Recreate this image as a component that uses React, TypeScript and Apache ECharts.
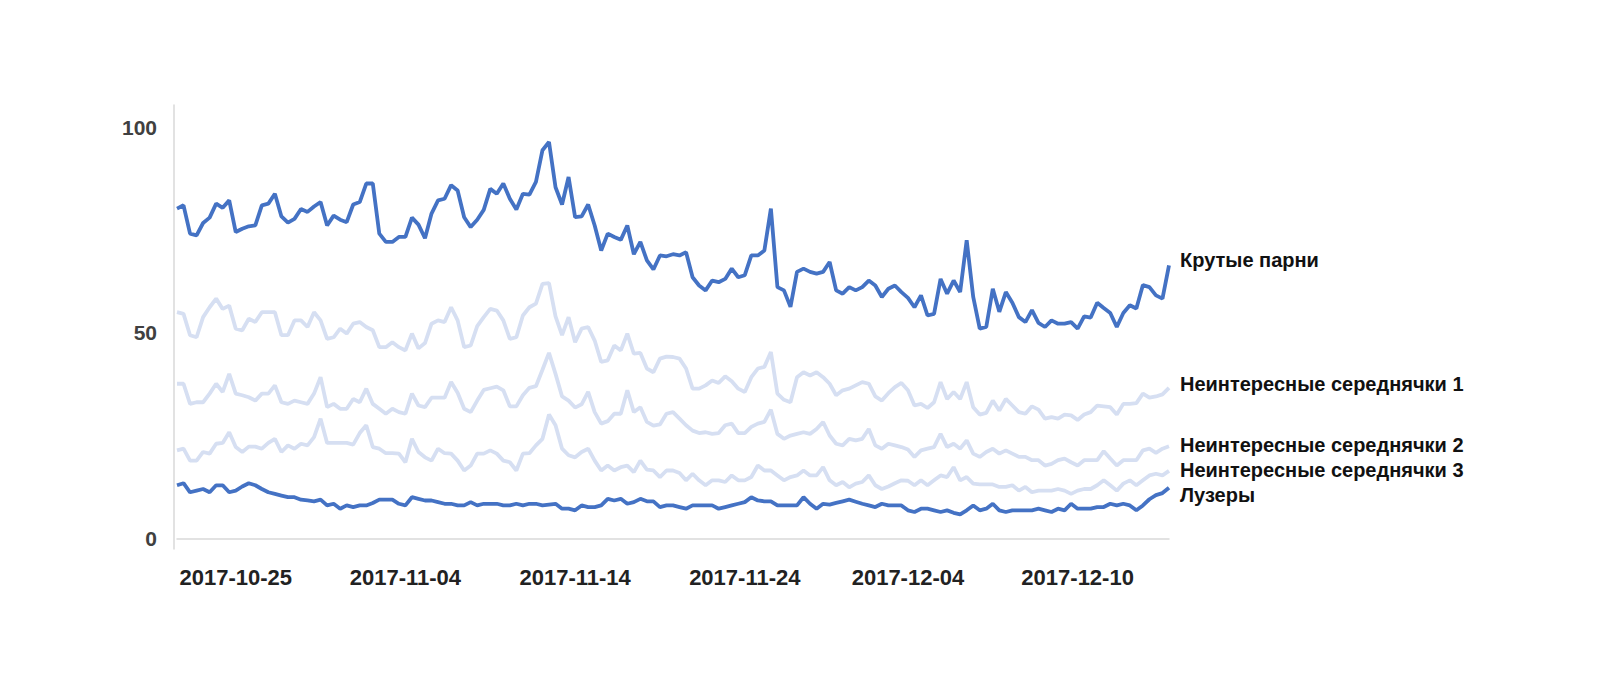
import React, { useEffect, useRef } from "react";
import * as echarts from "echarts";

const seriesNames = [
  "Крутые парни",
  "Неинтересные середнячки 1",
  "Неинтересные середнячки 2",
  "Неинтересные середнячки 3",
  "Лузеры",
];

const tickLabels = ["2017-10-25", "2017-11-04", "2017-11-14", "2017-11-24", "2017-12-04", "2017-12-10"];
const tickIndex = [9, 35, 61, 87, 112, 138];

const krutye = [
  80.2, 81.0, 74.1, 73.7, 76.7, 78.0, 81.4, 80.4, 82.2, 74.5,
  75.3, 75.9, 76.1, 81.0, 81.4, 83.8, 78.3, 76.8, 77.7, 80.1,
  79.4, 80.7, 81.8, 76.1, 78.5, 77.5, 76.9, 81.2, 81.8, 86.3,
  86.3, 74.1, 72.1, 72.1, 73.3, 73.3, 78.0, 76.3, 73.0, 79.0,
  82.2, 82.6, 85.9, 84.6, 78.1, 75.7, 77.5, 79.9, 85.0, 83.8,
  86.3, 82.6, 80.0, 83.8, 83.6, 86.7, 94.4, 96.4, 85.4, 81.2,
  87.9, 78.1, 78.3, 81.2, 76.1, 70.0, 74.1, 73.3, 72.6, 76.1,
  69.1, 72.1, 67.6, 65.4, 68.8, 68.6, 69.1, 68.8, 69.6, 63.5,
  61.5, 60.3, 62.7, 62.3, 63.1, 65.6, 63.5, 64.0, 68.8, 68.8,
  70.0, 80.2, 61.1, 60.3, 56.3, 64.8, 65.6, 64.8, 64.4, 64.8,
  67.2, 60.3, 59.5, 61.1, 60.3, 61.1, 62.7, 61.5, 58.7, 60.7,
  61.5, 59.9, 58.5, 56.2, 59.1, 54.2, 54.6, 63.1, 59.5, 62.7,
  59.9, 72.5, 58.7, 51.0, 51.4, 60.7, 55.1, 59.9, 57.3, 53.8,
  52.6, 55.5, 52.4, 51.4, 53.0, 52.2, 52.2, 52.6, 51.0, 54.0,
  53.7, 57.3, 56.0, 54.8, 51.4, 54.8, 56.7, 55.9, 61.6, 61.1,
  59.1, 58.3, 66.4,
];

const sred1 = [
  55.0, 54.6, 49.4, 48.9, 53.8, 56.2, 58.3, 55.8, 56.6, 51.0,
  50.6, 53.4, 52.6, 55.0, 55.0, 55.0, 49.4, 49.4, 53.0, 53.0,
  51.4, 55.0, 53.0, 48.5, 48.9, 51.0, 49.8, 52.2, 52.6, 51.4,
  50.6, 46.5, 46.5, 47.7, 46.5, 45.7, 49.8, 46.2, 47.5, 52.2,
  53.0, 52.6, 56.2, 53.0, 46.5, 46.9, 51.6, 53.8, 55.8, 55.4,
  53.0, 48.5, 48.9, 54.2, 56.2, 57.1, 61.9, 62.1, 54.0, 49.4,
  53.8, 47.7, 51.0, 51.4, 48.1, 42.9, 43.3, 46.9, 45.7, 49.8,
  44.9, 45.1, 41.3, 40.4, 43.7, 44.2, 44.1, 43.7, 41.3, 36.4,
  36.4, 37.2, 38.4, 37.8, 39.4, 38.2, 36.4, 35.6, 39.2, 41.3,
  41.7, 45.3, 35.2, 33.7, 33.1, 39.2, 40.4, 39.6, 40.4, 39.2,
  37.6, 34.8, 36.0, 36.4, 37.2, 38.0, 37.6, 34.5, 33.5, 35.3,
  36.8, 37.8, 36.0, 32.3, 32.7, 31.7, 33.1, 38.0, 33.9, 35.6,
  33.9, 38.0, 31.9, 30.1, 30.5, 33.5, 31.1, 33.9, 32.3, 30.7,
  30.3, 32.1, 31.3, 29.1, 29.5, 29.1, 30.1, 29.9, 28.8, 30.1,
  30.7, 32.3, 32.1, 31.9, 30.1, 32.7, 32.7, 32.9, 35.2, 34.2,
  34.5, 35.0, 36.6,
];

const sred2 = [
  37.6, 37.6, 32.7, 33.1, 33.1, 35.2, 37.6, 35.6, 40.0, 35.2,
  34.8, 34.3, 33.5, 35.2, 35.2, 37.2, 33.1, 32.7, 33.5, 33.1,
  32.7, 35.2, 39.2, 31.9, 32.7, 31.5, 31.5, 33.9, 33.1, 36.4,
  32.7, 31.5, 30.3, 31.5, 30.7, 30.3, 35.2, 32.3, 31.9, 34.2,
  34.2, 34.2, 38.0, 35.4, 31.5, 30.7, 33.5, 36.1, 36.5, 36.9,
  36.0, 32.1, 32.1, 34.8, 36.6, 37.0, 41.0, 45.1, 40.0, 34.5,
  33.5, 31.8, 32.6, 35.6, 30.7, 27.9, 28.5, 30.3, 30.3, 36.0,
  30.7, 31.9, 28.3, 27.4, 27.7, 30.3, 30.7, 29.1, 27.5, 26.2,
  25.6, 25.8, 25.4, 25.6, 27.5, 27.9, 25.6, 25.6, 27.1, 27.9,
  28.3, 31.3, 25.4, 24.2, 25.0, 25.4, 25.8, 25.4, 26.6, 28.3,
  25.0, 23.0, 22.6, 24.2, 23.8, 24.2, 26.6, 22.6, 21.8, 23.0,
  22.6, 22.2, 21.6, 19.8, 21.4, 21.8, 22.2, 25.4, 22.2, 23.0,
  21.8, 23.8, 20.6, 19.8, 21.0, 21.8, 20.6, 21.4, 20.6, 19.8,
  19.8, 19.0, 19.0, 17.7, 18.1, 19.0, 19.4, 18.5, 17.7, 19.0,
  19.0, 19.0, 21.2, 19.4, 17.7, 19.0, 19.0, 19.0, 21.4, 21.8,
  20.8, 21.8, 22.4,
];

const sred3 = [
  21.4, 21.8, 18.9, 18.9, 21.0, 20.6, 23.0, 23.2, 25.8, 22.2,
  21.0, 22.3, 22.3, 21.8, 23.2, 24.2, 21.0, 22.6, 21.8, 23.0,
  22.6, 24.6, 29.1, 23.2, 23.2, 23.2, 23.2, 22.8, 25.6, 27.5,
  22.2, 21.8, 20.7, 20.7, 20.6, 18.5, 24.2, 21.0, 19.7, 18.9,
  21.8, 20.7, 20.6, 18.9, 16.5, 17.7, 20.6, 20.6, 21.4, 20.6,
  18.9, 18.5, 16.5, 20.6, 20.7, 22.6, 24.2, 30.1, 27.5, 21.8,
  20.2, 19.7, 21.0, 21.8, 18.9, 16.5, 17.7, 16.5, 17.3, 17.7,
  16.1, 18.9, 16.7, 16.5, 14.9, 16.5, 16.5, 15.9, 14.1, 15.7,
  14.1, 12.9, 14.1, 14.1, 13.7, 15.3, 14.1, 14.1, 14.9, 17.7,
  16.5, 16.5, 15.3, 14.1, 14.9, 15.3, 16.5, 15.3, 15.3, 17.3,
  14.1, 12.9, 13.7, 12.4, 13.3, 13.7, 15.3, 12.9, 12.0, 12.6,
  13.4, 14.1, 14.0, 12.9, 14.1, 12.9, 14.1, 15.3, 14.9, 17.3,
  14.1, 14.9, 13.3, 13.1, 13.1, 13.1, 12.5, 12.5, 12.9, 11.6,
  12.5, 11.2, 11.6, 11.6, 11.6, 12.0, 11.6, 10.8, 11.6, 12.0,
  12.0, 12.9, 14.1, 12.9, 11.6, 13.3, 14.1, 12.9, 14.1, 15.3,
  15.7, 15.3, 16.4,
];

const luzery = [
  12.9, 13.4, 11.2, 11.6, 12.0, 11.2, 12.9, 12.9, 11.2, 11.6,
  12.6, 13.4, 12.9, 12.0, 11.2, 10.8, 10.4, 10.0, 10.0, 9.4,
  9.2, 9.0, 9.4, 8.0, 8.4, 7.2, 8.0, 7.6, 8.0, 8.0,
  8.6, 9.4, 9.4, 9.4, 8.4, 8.0, 10.0, 9.6, 9.2, 9.2,
  8.8, 8.4, 8.4, 8.0, 8.0, 8.8, 8.0, 8.4, 8.4, 8.4,
  8.0, 8.0, 8.4, 8.0, 8.4, 8.4, 8.0, 8.2, 8.4, 7.2,
  7.2, 6.8, 8.0, 7.6, 7.6, 8.0, 9.6, 9.2, 9.6, 8.4,
  8.8, 9.6, 9.0, 9.0, 7.6, 8.0, 8.0, 7.6, 7.2, 8.0,
  8.0, 8.0, 8.0, 7.2, 7.6, 8.0, 8.4, 8.8, 10.0, 9.2,
  9.0, 9.0, 8.0, 8.0, 8.0, 8.0, 10.0, 8.4, 7.2, 8.4,
  8.2, 8.6, 9.0, 9.4, 8.9, 8.4, 8.0, 7.6, 8.4, 8.0,
  8.0, 8.0, 6.8, 6.4, 7.2, 7.2, 6.8, 6.4, 6.8, 6.2,
  5.8, 6.8, 8.0, 6.8, 7.2, 8.4, 6.8, 6.4, 6.8, 6.8,
  6.8, 6.8, 7.2, 6.8, 6.4, 7.2, 6.8, 8.4, 7.2, 7.2,
  7.2, 7.6, 7.6, 8.4, 8.0, 8.4, 8.0, 6.8, 8.0, 9.5,
  10.5, 11.0, 12.3,
];

const categories = krutye.map((_, i) => String(i));

const DARK = "#4472C4";
const LIGHT = "#D6DFF2";
const FONT = "'Liberation Sans', Arial, sans-serif";

export default function App() {
  const ref = useRef<HTMLDivElement>(null);

  useEffect(() => {
    if (!ref.current) return;
    const chart = echarts.init(ref.current, null, { renderer: "svg" });

    const mk = (name: string, data: number[], color: string, dy: number) => ({
      name,
      type: "line",
      data,
      showSymbol: false,
      symbol: "none",
      lineStyle: { color, width: 3.8 },
      itemStyle: { color },
      endLabel: {
        show: true,
        formatter: "{a}",
        distance: 11,
        offset: [0, dy],
        fontSize: 20,
        fontWeight: "bold",
        color: "#111",
        fontFamily: FONT,
      },
      emphasis: { disabled: true },
    });

    chart.setOption({
      animation: false,
      backgroundColor: "#ffffff",
      textStyle: { fontFamily: FONT },
      grid: { left: 177, right: 431, top: 105, bottom: 141 },
      xAxis: {
        type: "category",
        data: categories,
        boundaryGap: false,
        axisLine: { show: true, lineStyle: { color: "#d9d9d9", width: 1.5 } },
        axisTick: { show: false },
        splitLine: { show: false },
        axisLabel: {
          interval: (idx: number) => tickIndex.includes(idx),
          formatter: (_v: string, idx: number) => {
            const k = tickIndex.indexOf(idx);
            return k >= 0 ? tickLabels[k] : "";
          },
          margin: 17,
          fontSize: 22,
          fontWeight: "bold",
          color: "#222",
          fontFamily: FONT,
        },
      },
      yAxis: {
        type: "value",
        min: -2.6,
        max: 105.4,
        offset: 3,
        axisLine: { show: true, lineStyle: { color: "#d9d9d9", width: 1.5 } },
        axisTick: { show: false },
        splitLine: { show: false },
        axisLabel: {
          customValues: [0, 50, 100],
          margin: 17,
          fontSize: 21,
          fontWeight: "bold",
          color: "#404040",
          fontFamily: FONT,
        },
      },
      series: [
        mk(seriesNames[0], krutye, DARK, -5),
        mk(seriesNames[1], sred1, LIGHT, -4),
        mk(seriesNames[2], sred2, LIGHT, -1),
        mk(seriesNames[3], sred3, LIGHT, -1),
        mk(seriesNames[4], luzery, DARK, 7),
      ],
    });

    return () => chart.dispose();
  }, []);

  return (
    <div
      ref={ref}
      style={{ position: "absolute", left: 0, top: 0, width: 1600, height: 690, background: "#fff" }}
    />
  );
}
